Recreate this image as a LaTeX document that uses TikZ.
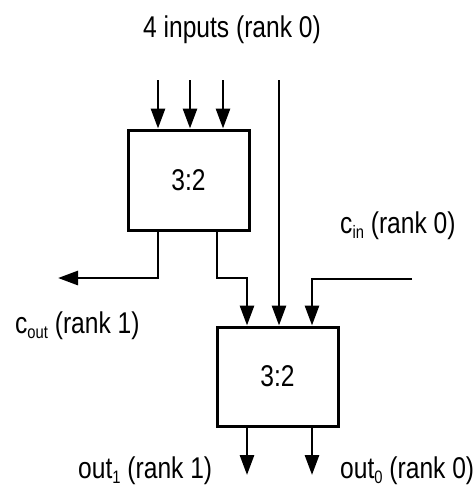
\documentclass[tikz,border=0pt]{standalone}
\usepackage{fontspec}
\setmainfont{Liberation Sans}
\usetikzlibrary{arrows.meta}
\usetikzlibrary{positioning}

\newcommand{\narrow}[1]{\scalebox{0.82}[1]{#1}}
\newcommand{\lowsub}[1]{\raisebox{-5pt}{\fontsize{18}{18}\selectfont #1}}

\tikzset{
    wire/.style={line width=2.8pt},
    wirearrow/.style={wire, -{Triangle[length=20pt,width=14pt]}},
    label/.style={inner sep=0pt, font=\fontsize{30}{36}\selectfont},
}

\begin{document}
\begin{tikzpicture}[x=1pt, y=-1pt]
        \useasboundingbox (0,0) rectangle (476,488);

        \node (csaA) at(188.5,180) [
            rectangle,
            minimum width=121pt, minimum height=100pt,
            draw=black, line width=3pt,
            font=\fontsize{30}{36}\selectfont,
        ] {\narrow{3:2}};

        \node (csaB) at(277.5,376.5) [
            rectangle,
            minimum width=121pt, minimum height=99pt,
            draw=black, line width=3pt,
            font=\fontsize{30}{36}\selectfont,
        ] {\narrow{3:2}};

        % free ends of the wires
        \coordinate (inA1) at(158,80);
        \coordinate (inA2) at(190,80);
        \coordinate (inA3) at(223,80);
        \coordinate (pass) at(279,80);
        \coordinate (carryA) at(217,0);
        \coordinate (cout) at(58,278);
        \coordinate (join) at(247,278);
        \coordinate (cin) at(412,279);
        \coordinate (inB3) at(312,0);
        \coordinate (out1) at(247,475);
        \coordinate (out0) at(312,475);

        \draw[wirearrow] (inA1) -- (inA1 |- csaA.north);
        \draw[wirearrow] (inA2) -- (inA2 |- csaA.north);
        \draw[wirearrow] (inA3) -- (inA3 |- csaA.north);
        \draw[wirearrow] (pass) -- (pass |- csaB.north);

        \draw[wirearrow] (inA1 |- csaA.south) |- (cout);
        \draw[wirearrow] (carryA |- csaA.south) |- (join) -- (join |- csaB.north);
        \draw[wirearrow] (cin) -| (inB3 |- csaB.north);

        \draw[wirearrow] (out1 |- csaB.south) -- (out1);
        \draw[wirearrow] (out0 |- csaB.south) -- (out0);

        \node (title) at(232,30) [label] {\narrow{4 inputs (rank 0)}};
        \node (cinlabel) at(340,233) [label, anchor=base west] {\narrow{c\lowsub{in} (rank 0)}};
        \node (coutlabel) at(15,333) [label, anchor=base west] {\narrow{c\lowsub{out} (rank 1)}};
        \node (out1label) at(78,478) [label, anchor=base west] {\narrow{out\lowsub{1} (rank 1)}};
        \node (out0label) at(340,478) [label, anchor=base west] {\narrow{out\lowsub{0} (rank 0)}};
    \end{tikzpicture}
\end{document}
